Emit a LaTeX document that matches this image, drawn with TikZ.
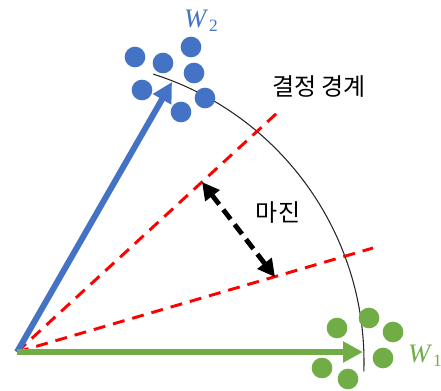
\documentclass[tikz,border=0pt]{standalone}
\usepackage{fontspec}
\newfontfamily\kr{Noto Sans CJK KR}
\newfontfamily\wf{Liberation Serif}
\usetikzlibrary{arrows.meta,calc}
\definecolor{wblue}{RGB}{68,114,196}
\definecolor{wgreen}{RGB}{112,173,71}
\definecolor{mred}{RGB}{255,0,0}
\tikzset{
  dotb/.style={circle,fill=wblue,minimum size=15.5pt,inner sep=0pt},
  dotg/.style={circle,fill=wgreen,minimum size=15.5pt,inner sep=0pt},
  vecarrow/.style={line width=4.5pt,-{Triangle[length=15pt,width=15pt]}},
  reddash/.style={draw=mred,line width=2.2pt,dash pattern=on 9pt off 6pt},
  marginarrow/.style={line width=3.6pt,dash pattern=on 9pt off 5pt,{Triangle[length=13pt,width=13pt]}-{Triangle[length=13pt,width=13pt]}},
  lbl/.style={font=\kr\fontsize{18}{20}\selectfont,inner sep=0pt},
  wlbl/.style={font=\wf\fontsize{20}{22}\selectfont,inner sep=0pt}
}
\newcommand{\wsub}[1]{\textit{W}\kern0.5pt\raisebox{-0.3ex}{\fontsize{13}{14}\selectfont #1}}
\begin{document}
\begin{tikzpicture}[x=0.75pt,y=0.75pt]
\useasboundingbox (0,0) rectangle (441,390);
% points
\coordinate (O) at (17,38);
\coordinate (G) at (363,38);
\coordinate (B) at (172,308);
\coordinate (R1) at (277,277);
\coordinate (R2) at (373,142);
\coordinate (M1) at (202,208);
\coordinate (M2) at (275,113);
\coordinate (C) at (62,28);
% decision boundary arc
\draw[line width=0.8pt,black!85] ($(C)+(72.4:302)$) arc[start angle=72.4,end angle=-1.8,radius=302];
% dots
\foreach \p [count=\i] in {(135,333),(163,327),(191,343),(194,317),(142,300),(181,278),(205,292)}
  \node[dotb] (b\i) at \p {};
\foreach \p [count=\i] in {(337,62),(369,72),(393,58),(383,32),(322,22),(348,11)}
  \node[dotg] (g\i) at \p {};
% red dashed
\draw[reddash] (O) -- (R1);
\draw[reddash] (O) -- (R2);
% vectors
\draw[vecarrow,wblue] (O) -- (B);
\draw[vecarrow,wgreen] (O) -- (G);
% margin
\draw[marginarrow] (M1) -- (M2);
% labels
\node[lbl] (db) at (319,303) {결정 경계};
\node[lbl] (mg) at (278,177) {마진};
\node[wlbl,text=wblue] (w2) at (201,369) {\wsub{2}};
\node[wlbl,text=wgreen] (w1) at (425,34) {\wsub{1}};
\end{tikzpicture}
\end{document}
